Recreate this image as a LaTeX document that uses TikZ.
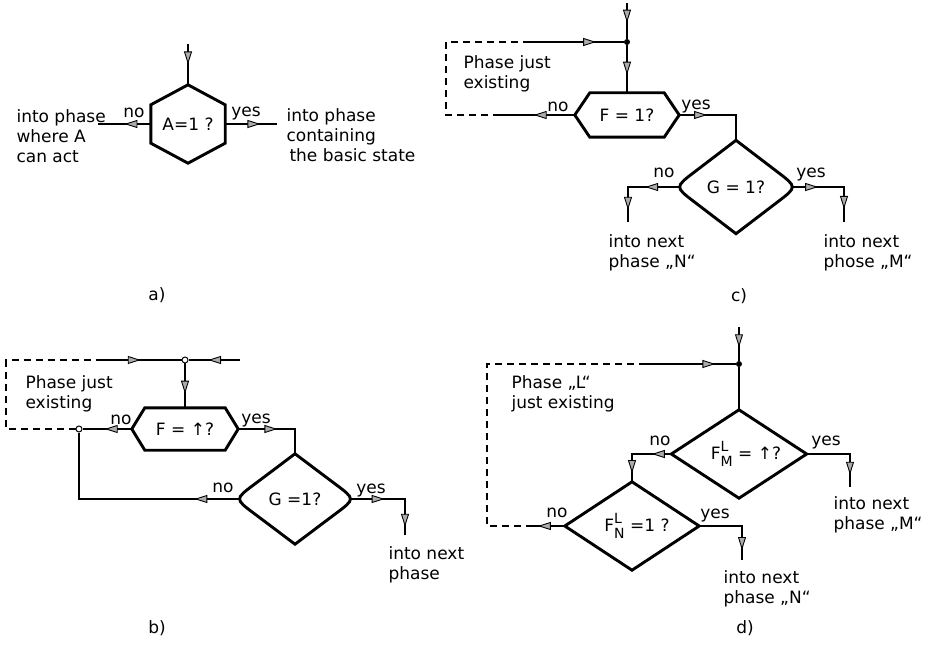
\documentclass[tikz,border=0pt]{standalone}
\usepackage{fontspec}
\setmainfont{DejaVu Sans}
\usetikzlibrary{arrows.meta,decorations.markings,calc}
\newcommand{\rdiam}[1]{%
  \coordinate (#1-vr) at ([xshift=5pt]#1.east);
  \coordinate (#1-vl) at ([xshift=-5pt]#1.west);
  \draw[shp] (#1.north) -- ($(#1.north)!0.68!(#1-vr)$) .. controls (#1-vr) .. ($(#1.south)!0.68!(#1-vr)$)
    -- (#1.south) -- ($(#1.south)!0.68!(#1-vl)$) .. controls (#1-vl) .. ($(#1.north)!0.68!(#1-vl)$) -- cycle;}
\newcommand{\hexh}[2]{%
  \draw[shp] (#1.west) -- ([xshift=#2]#1.north west) -- ([xshift=-#2]#1.north east) -- (#1.east)
    -- ([xshift=-#2]#1.south east) -- ([xshift=#2]#1.south west) -- cycle;}
\newcommand{\sdiam}[1]{%
  \draw[shp] (#1.north) -- (#1.east) -- (#1.south) -- (#1.west) -- cycle;}
\newcommand{\supsub}[2]{\rlap{\raisebox{0.5em}{\fontsize{14}{14}\selectfont #1}}\raisebox{-0.4em}{\fontsize{14}{14}\selectfont #2}}
\tikzset{
  shp/.style={line width=2.9pt, line join=miter},
  cn/.style={line width=1.1pt},
  dsh/.style={line width=1.1pt, dash pattern=on 7pt off 5pt},
  arrat/.style={postaction={decorate,decoration={markings,
      mark=at position #1 with {\arrow{Triangle[length=13pt,width=8pt,fill=gray!65,line width=0.9pt]}}}}},
  jdot/.style={circle,fill=black,inner sep=0pt,minimum size=6pt},
  jring/.style={circle,draw,fill=white,line width=1pt,inner sep=0pt,minimum size=6pt},
  lbl/.style={anchor=base},
  blk/.style={anchor=north west, align=left},
  sbox/.style 2 args={inner sep=0pt, minimum width=#1, minimum height=#2},
  every node/.append style={font=\fontsize{17}{20}\selectfont}
}
\begin{document}
\begin{tikzpicture}[x=1pt,y=-1pt]
\useasboundingbox (0,0) rectangle (938,647);

% ---------------- a) ----------------
\node[sbox={74pt}{78pt}] (A) at (188,124) {A=1 ?};
\draw[shp] (A.north) -- ([yshift=-20pt]A.north east) -- ([yshift=20pt]A.south east) -- (A.south)
  -- ([yshift=20pt]A.south west) -- ([yshift=-20pt]A.north west) -- cycle;
\coordinate (aIn) at (188,44);
\coordinate (aNo) at (98,124);
\coordinate (aYes) at (277,124);
\draw[cn,arrat=0.5] (aIn) -- (A.north);
\draw[cn,arrat=0.5] (A.west) -- (aNo);
\draw[cn,arrat=0.68] (A.east) -- (aYes);
\node[lbl] (aNoL) at (134,118) {no};
\node[lbl] (aYesL) at (246,117) {yes};
\node[blk] (aNoT) at (13,106) {into phase\\where A\\can act};
\node[blk] (aYesT) at (283,105) {into phase\\containing\\\hspace*{3pt}the basic state};
\node[lbl] (aCap) at (157,301) {a)};

% ---------------- c) ----------------
\coordinate (cTop) at (627,3);
\node[jdot] (cJ) at (627,42) {};
\node[sbox={104pt}{44pt}] (cF) at (627,115) {F = 1?};
\hexh{cF}{15pt}
\draw[cn,arrat=0.55] (cTop) -- (cJ);
\draw[cn,arrat=0.62] (cJ) -- (cF.north);
\coordinate (cLa) at (500,115);
\coordinate (cLb) at (446,115);
\coordinate (cLc) at (446,42);
\coordinate (cLd) at (525,42);
\draw[cn,arrat=0.55] (cF.west) -- (cLa);
\draw[dsh] (cLa) -- (cLb) -- (cLc) -- (cLd);
\draw[cn,arrat=0.72] (cLd) -- (cJ);
\node[lbl] (cFno) at (558,112) {no};
\node[lbl] (cFyes) at (696,110) {yes};
\node[blk] (cPh) at (460,52) {Phase just\\existing};
\node[sbox={112pt}{93pt}] (cG) at (736,187) {G = 1?};
\rdiam{cG}
\draw[cn,arrat=0.34] (cF.east) -| (cG.north);
\coordinate (cGn) at (628,222);
\coordinate (cGy) at (844,222);
\draw[cn,arrat=0.4,arrat=0.86] (cG.west) -| (cGn);
\draw[cn,arrat=0.3,arrat=0.85] (cG.east) -| (cGy);
\node[lbl] (cGno) at (664,178) {no};
\node[lbl] (cGyes) at (811,178) {yes};
\node[blk] (cNT) at (605,231) {into next\\phase „N“};
\node[blk] (cMT) at (820,231) {into next\\phose „M“};
\node[lbl] (cCap) at (739,302) {c)};

% ---------------- b) ----------------
\coordinate (bR) at (240,360);
\node[jring] (bJ) at (185,360) {};
\node[sbox={106pt}{42pt}] (bF) at (185,429) {F = ↑?};
\hexh{bF}{13pt}
\draw[cn,arrat=0.62] (bR) -- (bJ);
\draw[cn,arrat=0.68] (bJ) -- (bF.north);
\node[jring] (bJ2) at (79,429) {};
\draw[cn,arrat=0.55] (bF.west) -- (bJ2);
\coordinate (bDa) at (6,429);
\coordinate (bDb) at (6,360);
\coordinate (bDc) at (100,360);
\draw[dsh] (bJ2) -- (bDa) -- (bDb) -- (bDc);
\draw[cn,arrat=0.5] (bDc) -- (bJ);
\node[blk] (bPh) at (22,372) {Phase just\\existing};
\node[lbl] (bFno) at (121,424) {no};
\node[lbl] (bFyes) at (256,423) {yes};
\node[sbox={110pt}{90pt}] (bG) at (295,499) {G =1?};
\rdiam{bG}
\draw[cn,arrat=0.48] (bF.east) -| (bG.north);
\draw[cn,arrat=0.2] (bG.west) -| (bJ2);
\coordinate (bGy) at (405,535);
\draw[cn,arrat=0.38,arrat=0.91] (bG.east) -| (bGy);
\node[lbl] (bGno) at (223,492) {no};
\node[lbl] (bGyes) at (371,493) {yes};
\node[blk] (bNT) at (385,543) {into next\\phase};
\node[lbl] (bCap) at (157,633) {b)};

% ---------------- d) ----------------
\coordinate (dTop) at (739,327);
\node[jdot] (dJ) at (739,364) {};
\node[sbox={135pt}{88pt}] (dM) at (739,454) {\hspace*{14pt}F\supsub{L}{M} = ↑?};
\sdiam{dM}
\node[sbox={134pt}{88pt}] (dN) at (632,526) {\hspace*{10pt}F\supsub{L}{N} =1 ?};
\sdiam{dN}
\draw[cn,arrat=0.6] (dTop) -- (dJ);
\draw[cn] (dJ) -- (dM.north);
\coordinate (dLa) at (533,526);
\coordinate (dLb) at (487,526);
\coordinate (dLc) at (487,364);
\coordinate (dLd) at (643,364);
\draw[cn,arrat=0.85] (dN.west) -- (dLa);
\draw[dsh] (dLa) -- (dLb) -- (dLc) -- (dLd);
\draw[cn,arrat=0.78] (dLd) -- (dJ);
\node[blk] (dPh) at (508,372) {Phase „L“\\just existing};
\draw[cn,arrat=0.29,arrat=0.87] (dM.west) -| (dN.north);
\coordinate (dMy) at (850,487);
\draw[cn,arrat=0.84] (dM.east) -| (dMy);
\coordinate (dNy) at (742,560);
\draw[cn,arrat=0.87] (dN.east) -| (dNy);
\node[lbl] (dMno) at (660,445) {no};
\node[lbl] (dMyes) at (826,445) {yes};
\node[lbl] (dNno) at (557,517) {no};
\node[lbl] (dNyes) at (715,518) {yes};
\node[blk] (dMT) at (830,493) {into next\\phase „M“};
\node[blk] (dNT) at (720,567) {into next\\phase „N“};
\node[lbl] (dCap) at (745,633) {d)};
\end{tikzpicture}
\end{document}
